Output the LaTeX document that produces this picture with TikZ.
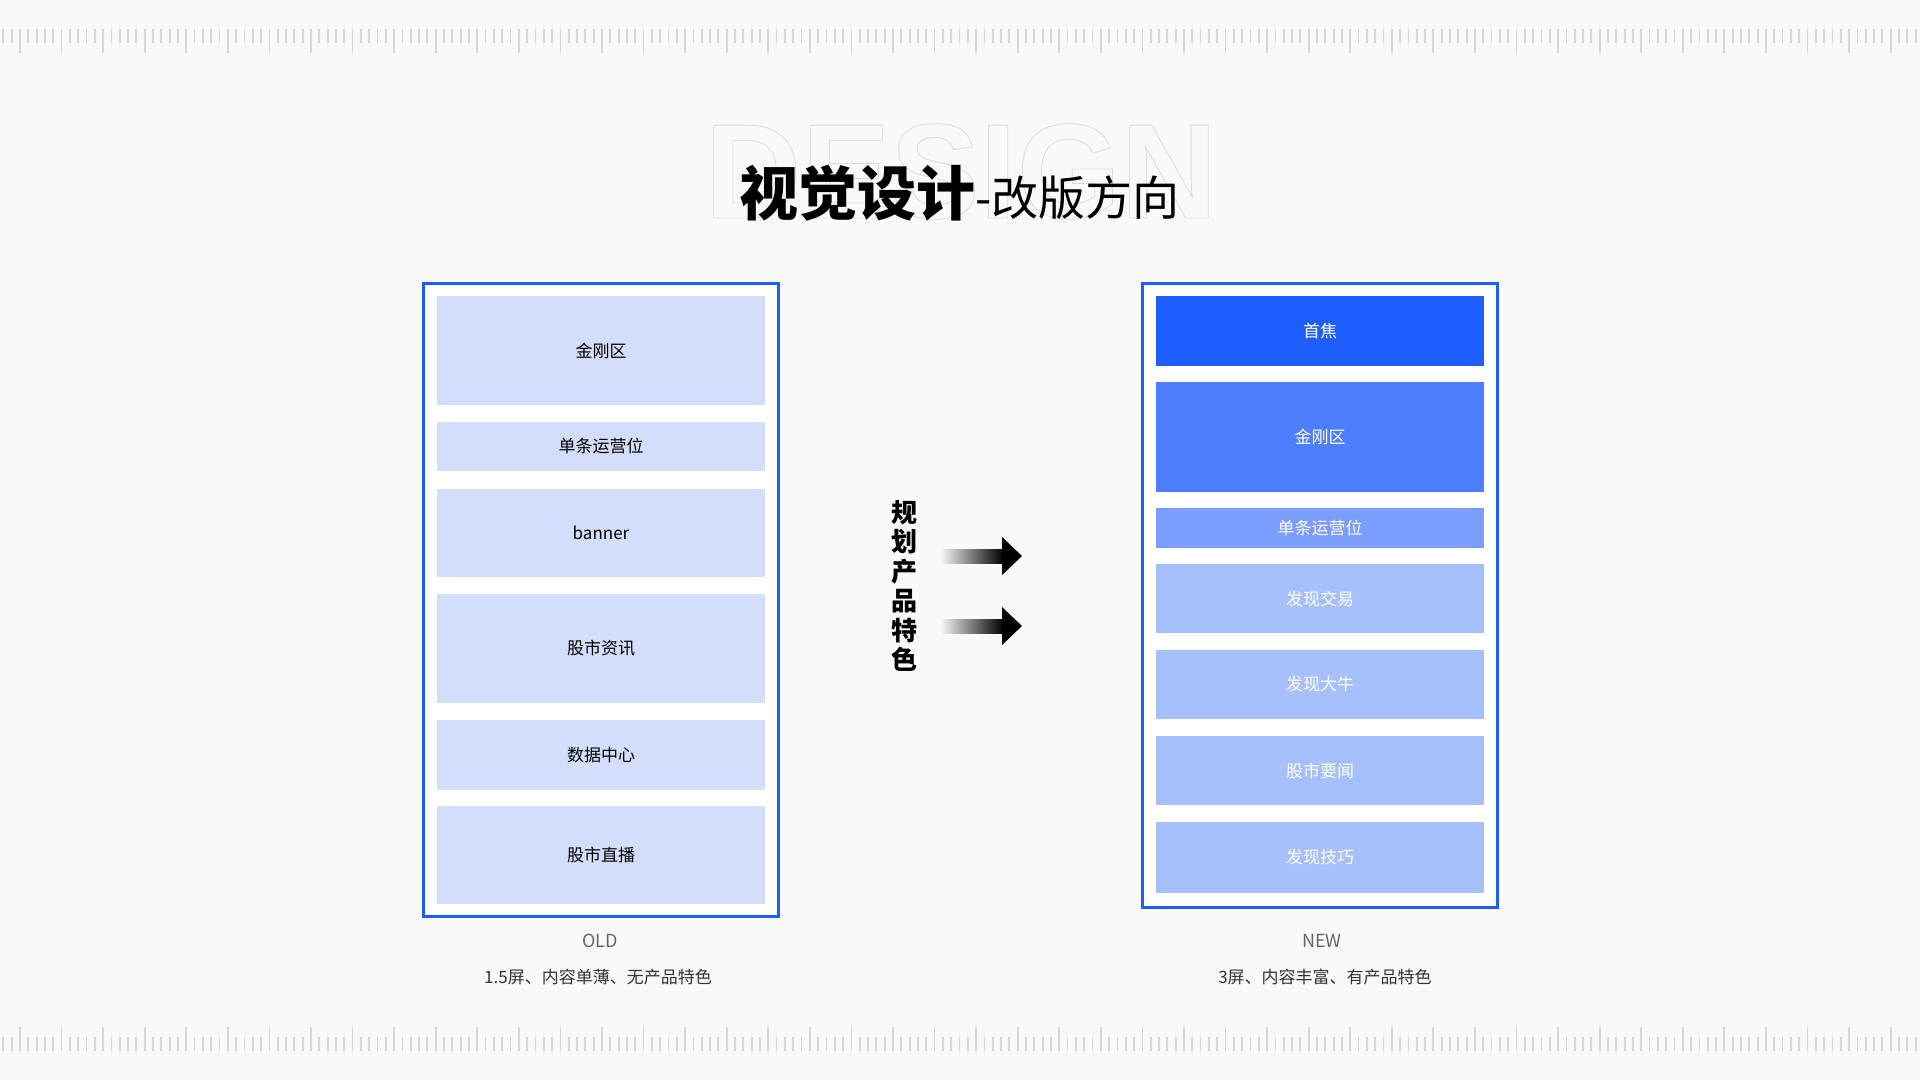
\documentclass[tikz,border=0pt]{standalone}
\usepackage{fontspec}
\setmainfont{Noto Sans CJK SC}
\newfontfamily\designfont{Liberation Sans}
\begin{document}
\begin{tikzpicture}[x=1pt,y=-1pt,every node/.style={inner sep=0pt, outer sep=0pt, font=\fontsize{17}{20}\selectfont}]
\useasboundingbox (0,0) rectangle (1920,1080);
\fill[fill={rgb,255:red,249;green,249;blue,249}] (0,0) rectangle (1920,1080);
% ruler marks
\foreach \k in {0,...,230} {
  \pgfmathsetmacro\tx{3.37+8.314*\k}
  \pgfmathtruncatemacro\m{mod(\k,5)}
  \pgfmathsetmacro\len{\m==2 ? 24 : 14}
  \draw[draw={rgb,255:red,214;green,214;blue,214},line width=1.8pt] (\tx,29) -- ++(0,\len);
  \draw[draw={rgb,255:red,214;green,214;blue,214},line width=1.8pt] (\tx,1051) -- ++(0,-\len);
}
% title
\node[anchor=base,text={rgb,255:red,218;green,218;blue,218},xscale=0.99,font=\designfont\bfseries\fontsize{135}{135}\selectfont] (design) at (961,218) {\special{pdf:literal direct 1 Tr 0.8 w}DESIGN\special{pdf:literal direct 0 Tr}};
\node[anchor=base] (title) at (959.5,215) {{\bfseries\fontsize{59}{64}\selectfont 视觉设计}{\fontsize{47}{52}\selectfont -改版方向}};
% old
\node[draw={rgb,255:red,30;green,94;blue,255},line width=3pt,fill=white,minimum width=355pt,minimum height=633pt] (old) at (601,600) {};
\node[fill={rgb,255:red,211;green,222;blue,252},minimum width=328pt,minimum height=109pt] (oldkk) at (601,350.5) {金刚区};
\node[fill={rgb,255:red,211;green,222;blue,252},minimum width=328pt,minimum height=49pt] (oldyy) at (601,446.5) {单条运营位};
\node[fill={rgb,255:red,211;green,222;blue,252},minimum width=328pt,minimum height=88pt] (oldbn) at (601,533) {banner};
\node[fill={rgb,255:red,211;green,222;blue,252},minimum width=328pt,minimum height=109pt] (oldzx) at (601,648.5) {股市资讯};
\node[fill={rgb,255:red,211;green,222;blue,252},minimum width=328pt,minimum height=70pt] (oldsj) at (601,755) {数据中心};
\node[fill={rgb,255:red,211;green,222;blue,252},minimum width=328pt,minimum height=98pt] (oldzb) at (601,855) {股市直播};
\node[text={rgb,255:red,102;green,102;blue,102},font=\fontsize{18}{20}\selectfont] (oldlbl) at (600,941) {OLD};
\node[text={rgb,255:red,51;green,51;blue,51}] (olddesc) at (598,977) {1.5屏、内容单薄、无产品特色};
% new
\node[draw={rgb,255:red,30;green,94;blue,255},line width=3pt,fill=white,minimum width=355pt,minimum height=624pt] (new) at (1320,595.5) {};
\node[fill={rgb,255:red,30;green,94;blue,255},text=white,minimum width=328pt,minimum height=70pt] (newsj) at (1320,331) {首焦};
\node[fill={rgb,255:red,76;green,126;blue,254},text=white,minimum width=328pt,minimum height=110pt] (newkk) at (1320,437) {金刚区};
\node[fill={rgb,255:red,123;green,158;blue,252},text=white,minimum width=328pt,minimum height=40pt] (newyy) at (1320,528) {单条运营位};
\node[fill={rgb,255:red,166;green,191;blue,253},text=white,minimum width=328pt,minimum height=69pt] (newjy) at (1320,598.5) {发现交易};
\node[fill={rgb,255:red,166;green,191;blue,253},text=white,minimum width=328pt,minimum height=69pt] (newdn) at (1320,684.5) {发现大牛};
\node[fill={rgb,255:red,166;green,191;blue,253},text=white,minimum width=328pt,minimum height=69pt] (newyw) at (1320,770.5) {股市要闻};
\node[fill={rgb,255:red,166;green,191;blue,253},text=white,minimum width=328pt,minimum height=71pt] (newjq) at (1320,857.5) {发现技巧};
\node[text={rgb,255:red,102;green,102;blue,102},font=\fontsize{18}{20}\selectfont] (newlbl) at (1322,941) {NEW};
\node[text={rgb,255:red,51;green,51;blue,51}] (newdesc) at (1325,977) {3屏、内容丰富、有产品特色};
% middle
\node[align=center,font=\bfseries\fontsize{26}{29.5}\selectfont] (plan) at (904,586) {规\\划\\产\\品\\特\\色};
\shade[left color={rgb,255:red,249;green,249;blue,249},right color=black] (940,549) rectangle (1003,563);
\fill (1002,537) -- (1022,556) -- (1002,575) -- cycle;
\shade[left color={rgb,255:red,249;green,249;blue,249},right color=black] (940,619) rectangle (1003,633);
\fill (1002,607) -- (1022,626) -- (1002,645) -- cycle;
\end{tikzpicture}
\end{document}
